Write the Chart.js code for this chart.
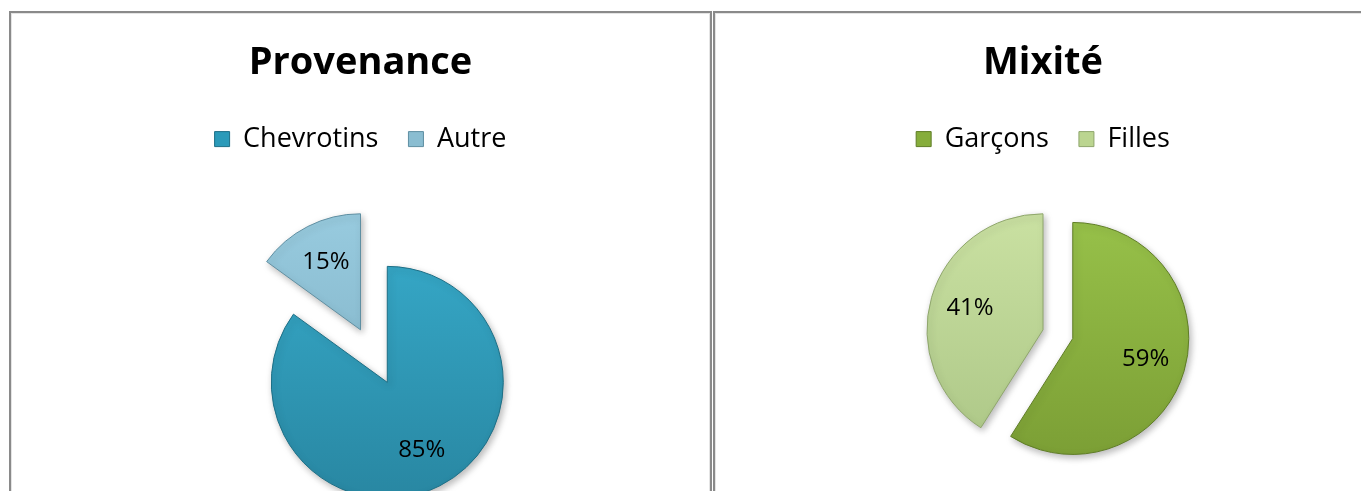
<!DOCTYPE html>
<html lang="fr">
<head>
<meta charset="UTF-8">
<title>Provenance / Mixité</title>
<script src="https://cdn.jsdelivr.net/npm/chart.js"></script>
<style>
  html, body {
    margin: 0;
    padding: 0;
    background: #fff;
    overflow: hidden;
    width: 1361px;
    height: 491px;
  }
  .panel {
    position: absolute;
    top: 11px;
    height: 600px;
    box-sizing: border-box;
    border: 2px solid #8a8a8a;
    box-shadow: inset 0 0 0 1px #e4e4e4;
    background: #fff;
  }
  #p1 { left: 9px; width: 703px; }
  #p2 { left: 713px; width: 660px; }
  .panel canvas { position: absolute; left: 0; top: 0; }
</style>
</head>
<body>

<div class="panel" id="p1"><canvas id="chartProvenance"></canvas></div>
<div class="panel" id="p2"><canvas id="chartMixite"></canvas></div>

<script>
  // donnees
  const provenanceLabels = ['Chevrotins', 'Autre'];
  const provenanceValues = [85, 15];
  const mixiteLabels = ['Garçons', 'Filles'];
  const mixiteValues = [59, 41];

  // couleurs : [clair, fonce, legende, bord]
  const provenanceColors = [
    ['#38adcd', '#2886a1', '#2b9ab9', '#1d6f86'],
    ['#98cbdf', '#78a9bd', '#8abdd1', '#5f8fa2']
  ];
  const mixiteColors = [
    ['#98c24a', '#769831', '#86ad3b', '#5f7d26'],
    ['#cae1a2', '#a6c181', '#bbd590', '#8fa66c']
  ];

  // eclatement des parts (px)
  const provenanceExplode = [59, 0];
  const mixiteExplode = [31, 0];

  const FONT = "'Open Sans', 'DejaVu Sans', sans-serif";

  function midAngle(arc) {
    return (arc.startAngle + arc.endAngle) / 2;
  }

  // deplace les parts eclatees juste pour le dessin
  const explodePlugin = {
    id: 'explode',
    beforeDatasetDraw(chart, args, opts) {
      const d = opts.distances || [];
      args.meta.data.forEach((arc, i) => {
        const m = midAngle(arc);
        arc.x += Math.cos(m) * (d[i] || 0);
        arc.y += Math.sin(m) * (d[i] || 0);
      });
    },
    afterDatasetDraw(chart, args, opts) {
      const d = opts.distances || [];
      args.meta.data.forEach((arc, i) => {
        const m = midAngle(arc);
        arc.x -= Math.cos(m) * (d[i] || 0);
        arc.y -= Math.sin(m) * (d[i] || 0);
      });
    }
  };

  // ombre douce sous les parts
  const shadowPlugin = {
    id: 'softShadow',
    beforeDatasetsDraw(chart) {
      const c = chart.ctx;
      c.save();
      c.shadowColor = 'rgba(0,0,0,0.28)';
      c.shadowBlur = 7;
      c.shadowOffsetX = 2;
      c.shadowOffsetY = 3;
    },
    afterDatasetsDraw(chart) {
      chart.ctx.restore();
    }
  };

  // etiquettes de pourcentage
  const percentPlugin = {
    id: 'percentLabels',
    afterDatasetsDraw(chart, args, opts) {
      const c = chart.ctx;
      const meta = chart.getDatasetMeta(0);
      const values = chart.data.datasets[0].data;
      const total = values.reduce((a, b) => a + b, 0);
      const d = opts.distances || [];
      c.save();
      c.font = '24px ' + FONT;
      c.fillStyle = '#000';
      c.textAlign = 'center';
      c.textBaseline = 'middle';
      meta.data.forEach((arc, i) => {
        const m = midAngle(arc);
        const r = arc.outerRadius * 0.655 + (d[i] || 0);
        const txt = Math.round(values[i] / total * 100) + '%';
        c.fillText(txt, arc.x + Math.cos(m) * r, arc.y + Math.sin(m) * r);
      });
      c.restore();
    }
  };

  function makePie(id, title, labels, values, colors, explode) {
    const ctx = document.getElementById(id).getContext('2d');
    return new Chart(ctx, {
      type: 'pie',
      data: {
        labels: labels,
        datasets: [{
          data: values,
          radius: 116,
          backgroundColor: (c) => {
            const col = colors[c.dataIndex] || colors[0];
            const area = c.chart.chartArea;
            if (!area) return col[2];
            const cy = (area.top + area.bottom) / 2;
            const g = c.chart.ctx.createLinearGradient(0, cy - 120, 0, cy + 175);
            g.addColorStop(0, col[0]);
            g.addColorStop(1, col[1]);
            return g;
          },
          borderColor: colors.map(col => col[3]),
          borderWidth: 1
        }]
      },
      options: {
        responsive: true,
        maintainAspectRatio: false,
        animation: false,
        events: [],
        layout: {
          padding: { bottom: 112 }
        },
        plugins: {
          title: {
            display: true,
            text: title,
            color: '#000',
            font: { family: FONT, size: 38, weight: 'bold' },
            padding: { top: 27, bottom: 10 }
          },
          legend: {
            position: 'top',
            labels: {
              color: '#000',
              font: { family: FONT, size: 27 },
              boxWidth: 15,
              boxHeight: 15,
              padding: 30,
              generateLabels: (chart) => chart.data.labels.map((l, i) => ({
                text: l,
                fillStyle: colors[i][2],
                strokeStyle: colors[i][3],
                lineWidth: 1,
                index: i
              }))
            }
          },
          tooltip: { enabled: false },
          explode: { distances: explode },
          percentLabels: { distances: explode }
        }
      },
      plugins: [shadowPlugin, explodePlugin, percentPlugin]
    });
  }

  makePie('chartProvenance', 'Provenance', provenanceLabels, provenanceValues, provenanceColors, provenanceExplode);
  makePie('chartMixite', 'Mixité', mixiteLabels, mixiteValues, mixiteColors, mixiteExplode);
</script>
</body>
</html>
